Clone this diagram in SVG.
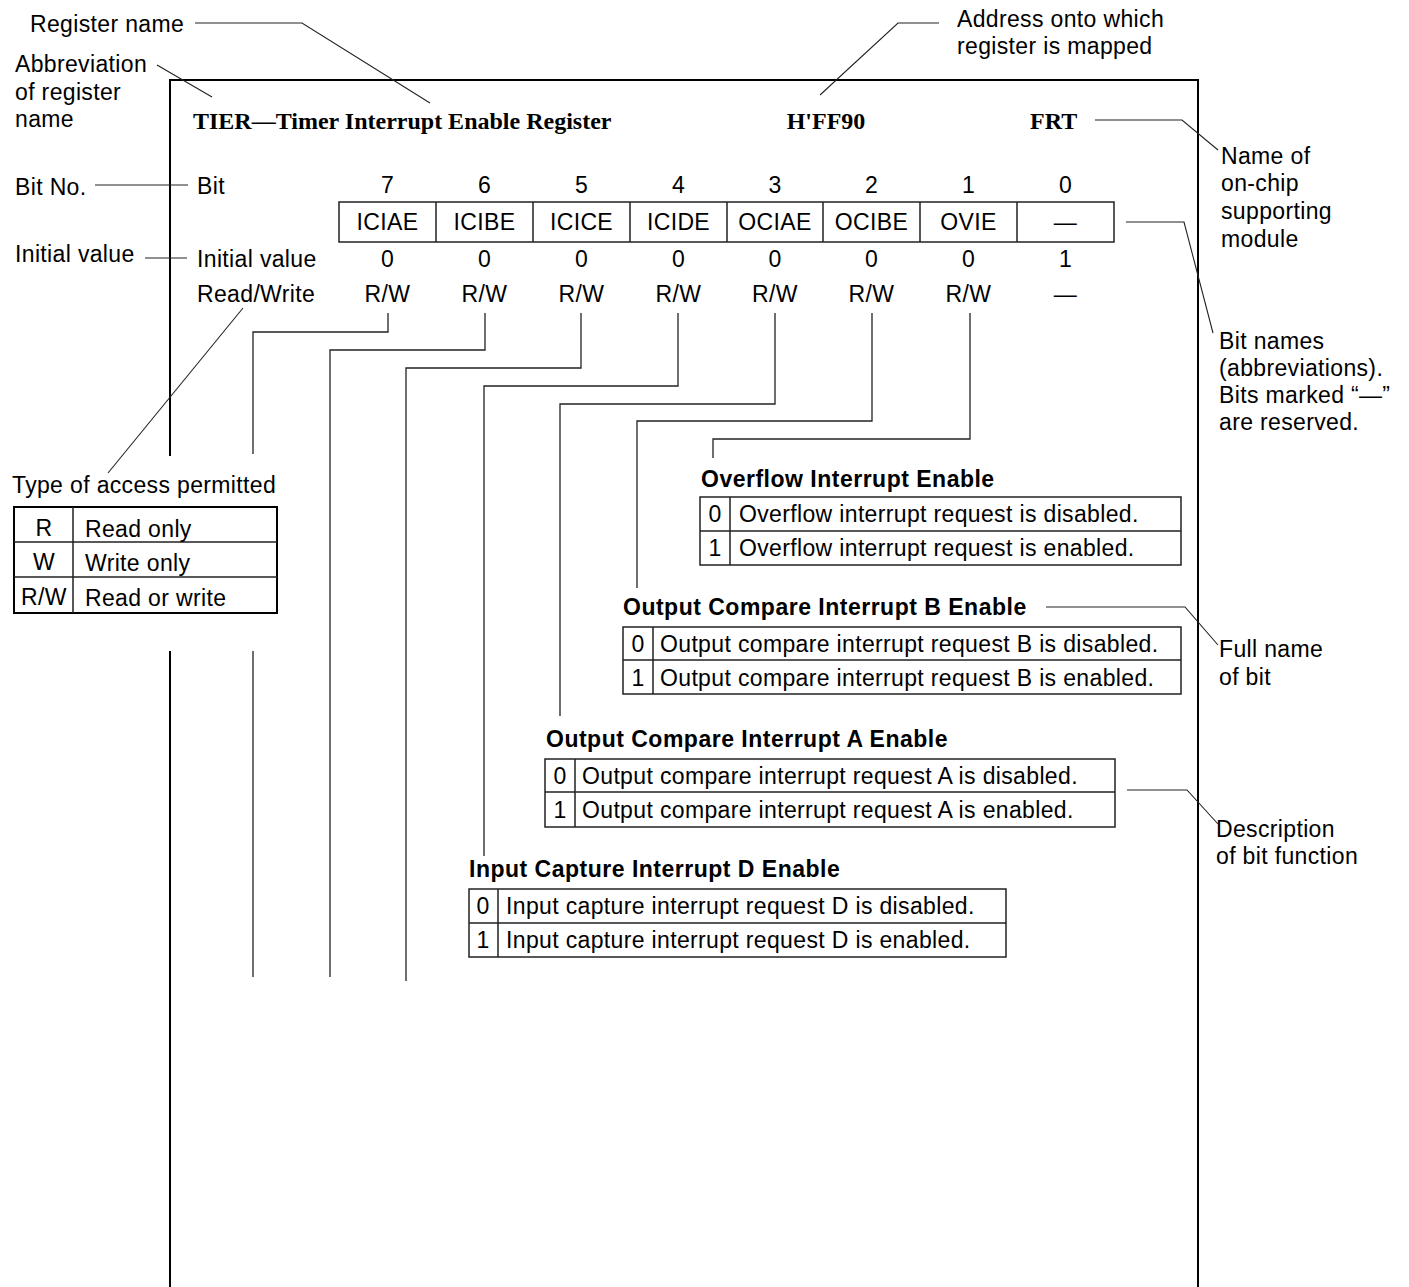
<svg xmlns="http://www.w3.org/2000/svg" width="1409" height="1287" viewBox="0 0 1409 1287">
<style>
text{font-family:"Liberation Sans",Arial,Helvetica,sans-serif;font-size:23px;letter-spacing:0.35px;fill:#000}
.b{font-weight:bold;letter-spacing:0.5px}
.s{font-family:"Liberation Serif","Times New Roman",serif;font-size:24px;font-weight:bold;letter-spacing:0}
.m{text-anchor:middle}
.frame{fill:none;stroke:#000;stroke-width:2}
.ln{fill:none;stroke:#222;stroke-width:1.3}
.ld{fill:none;stroke:#222;stroke-width:1.1}
.tb{fill:none;stroke:#222;stroke-width:1.5}
</style>

<g id="frame">
<path class="frame" d="M170,456 V80 H1198 V1287"/>
<path class="frame" d="M170,651 V1287"/>
</g>

<g id="header">
<text class="s" x="193" y="129">TIER—Timer Interrupt Enable Register</text>
<text class="s m" x="826" y="129">H'FF90</text>
<text class="s" x="1030" y="129">FRT</text>
</g>

<g id="bit-register">
<text x="197" y="194">Bit</text>
<text x="197" y="267">Initial value</text>
<text x="197" y="302">Read/Write</text>
<rect class="tb" x="339" y="202" width="775" height="40"/>
<path class="tb" d="M436,202V242M533,202V242M630,202V242M727,202V242M823,202V242M920,202V242M1017,202V242"/>
<g class="m">
<text class="m" x="387.5" y="193">7</text><text class="m" x="484.5" y="193">6</text><text class="m" x="581.5" y="193">5</text><text class="m" x="678.5" y="193">4</text><text class="m" x="775" y="193">3</text><text class="m" x="871.5" y="193">2</text><text class="m" x="968.5" y="193">1</text><text class="m" x="1065.5" y="193">0</text>
<text class="m" x="387.5" y="230">ICIAE</text><text class="m" x="484.5" y="230">ICIBE</text><text class="m" x="581.5" y="230">ICICE</text><text class="m" x="678.5" y="230">ICIDE</text><text class="m" x="775" y="230">OCIAE</text><text class="m" x="871.5" y="230">OCIBE</text><text class="m" x="968.5" y="230">OVIE</text><text class="m" x="1065.5" y="230">—</text>
<text class="m" x="387.5" y="267">0</text><text class="m" x="484.5" y="267">0</text><text class="m" x="581.5" y="267">0</text><text class="m" x="678.5" y="267">0</text><text class="m" x="775" y="267">0</text><text class="m" x="871.5" y="267">0</text><text class="m" x="968.5" y="267">0</text><text class="m" x="1065.5" y="267">1</text>
<text class="m" x="387.5" y="302">R/W</text><text class="m" x="484.5" y="302">R/W</text><text class="m" x="581.5" y="302">R/W</text><text class="m" x="678.5" y="302">R/W</text><text class="m" x="775" y="302">R/W</text><text class="m" x="871.5" y="302">R/W</text><text class="m" x="968.5" y="302">R/W</text><text class="m" x="1065.5" y="302">—</text>
</g>
</g>

<g id="annotations">
<text x="30" y="32">Register name</text>
<text x="15" y="72">Abbreviation</text>
<text x="15" y="100">of register</text>
<text x="15" y="127">name</text>
<text x="15" y="195">Bit No.</text>
<text x="15" y="262">Initial value</text>
<text x="957" y="27">Address onto which</text>
<text x="957" y="54">register is mapped</text>
<text x="1221" y="164">Name of</text>
<text x="1221" y="191">on-chip</text>
<text x="1221" y="219">supporting</text>
<text x="1221" y="247">module</text>
<text x="1219" y="349">Bit names</text>
<text x="1219" y="376">(abbreviations).</text>
<text x="1219" y="403">Bits marked “—”</text>
<text x="1219" y="430">are reserved.</text>
<text x="1219" y="657">Full name</text>
<text x="1219" y="685">of bit</text>
<text x="1216" y="837">Description</text>
<text x="1216" y="864">of bit function</text>
</g>

<g id="access-table">
<text x="12" y="493">Type of access permitted</text>
<rect x="14" y="507" width="263" height="106" fill="none" stroke="#000" stroke-width="2"/>
<path class="tb" d="M14,542H277M14,577H277M73,507V613"/>
<text class="m" x="44" y="536">R</text>
<text class="m" x="44" y="570">W</text>
<text class="m" x="44" y="605">R/W</text>
<text x="85" y="537">Read only</text>
<text x="85" y="571">Write only</text>
<text x="85" y="606">Read or write</text>
</g>

<g id="ovie">
<text class="b" x="701" y="487">Overflow Interrupt Enable</text>
<rect class="tb" x="700" y="497" width="481" height="68"/>
<path class="tb" d="M700,531H1181M730,497V565"/>
<text class="m" x="715" y="522">0</text>
<text class="m" x="715" y="556">1</text>
<text x="739" y="522">Overflow interrupt request is disabled.</text>
<text x="739" y="556">Overflow interrupt request is enabled.</text>
</g>

<g id="ocibe">
<text class="b" x="623" y="615">Output Compare Interrupt B Enable</text>
<rect class="tb" x="623" y="627" width="558" height="67"/>
<path class="tb" d="M623,660H1181M653,627V694"/>
<text class="m" x="638" y="652">0</text>
<text class="m" x="638" y="686">1</text>
<text x="660" y="652">Output compare interrupt request B is disabled.</text>
<text x="660" y="686">Output compare interrupt request B is enabled.</text>
</g>

<g id="ociae">
<text class="b" x="546" y="747">Output Compare Interrupt A Enable</text>
<rect class="tb" x="545" y="759" width="570" height="68"/>
<path class="tb" d="M545,792H1115M575,759V827"/>
<text class="m" x="560" y="784">0</text>
<text class="m" x="560" y="818">1</text>
<text x="582" y="784">Output compare interrupt request A is disabled.</text>
<text x="582" y="818">Output compare interrupt request A is enabled.</text>
</g>

<g id="icide">
<text class="b" x="469" y="877">Input Capture Interrupt D Enable</text>
<rect class="tb" x="469" y="889" width="537" height="68"/>
<path class="tb" d="M469,923H1006M498,889V957"/>
<text class="m" x="483" y="914">0</text>
<text class="m" x="483" y="948">1</text>
<text x="506" y="914">Input capture interrupt request D is disabled.</text>
<text x="506" y="948">Input capture interrupt request D is enabled.</text>
</g>

<g id="connectors">
<path class="ln" d="M388,313V332H253V454M253,651V977"/>
<path class="ln" d="M485,313V350H330V977"/>
<path class="ln" d="M581,313V368H406V981"/>
<path class="ln" d="M678,313V386H484V856"/>
<path class="ln" d="M775,313V404H560V716"/>
<path class="ln" d="M872,313V421H637V588"/>
<path class="ln" d="M970,313V439H713V458"/>
<path class="ld" d="M195,23H302L430,103"/>
<path class="ld" d="M157,65L212,97"/>
<path class="ld" d="M95,185H188"/>
<path class="ld" d="M145,258H187"/>
<path class="ld" d="M243,308L108,473"/>
<path class="ld" d="M939,23H898L820,95"/>
<path class="ld" d="M1095,120H1182L1218,150"/>
<path class="ld" d="M1126,222H1184L1213,333"/>
<path class="ld" d="M1046,607H1185L1218,645"/>
<path class="ld" d="M1127,790H1187L1218,824"/>
</g>
</svg>
